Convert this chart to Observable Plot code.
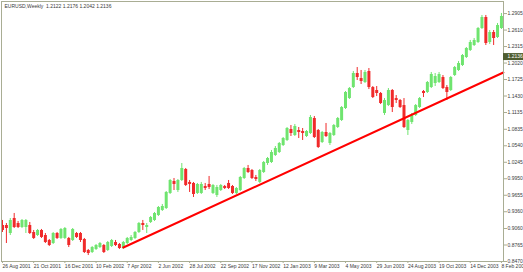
<!DOCTYPE html>
<html><head><meta charset="utf-8">
<script src="https://cdn.jsdelivr.net/npm/d3@7"></script>
<script src="https://cdn.jsdelivr.net/npm/@observablehq/plot@0.6"></script>
<style>html,body{margin:0;padding:0;background:#fff}svg{display:block}</style>
</head><body><div id="chart"></div>
<script>
const symbolTitle = "EURUSD,Weekly  1.2122 1.2176 1.2042 1.2136";
const firstWeek = "2001-08-26";

const openP = [0.9114,0.9114,0.8971,0.9239,0.9150,0.9078,0.9078,0.9114,0.8989,0.8935,
0.9025,0.8935,0.8846,0.8792,0.8971,0.8882,0.8882,0.8882,0.8846,0.8971,
0.8971,0.8864,0.8667,0.8631,0.8685,0.8720,0.8756,0.8667,0.8738,0.8810,
0.8774,0.8702,0.8792,0.8846,0.8882,0.8989,0.9150,0.9078,0.9168,0.9204,
0.9293,0.9382,0.9418,0.9687,0.9901,0.9740,0.9919,1.0116,0.9884,0.9866,
0.9687,0.9687,0.9812,0.9848,0.9687,0.9651,0.9740,0.9812,0.9866,0.9812,
0.9687,0.9740,0.9955,1.0134,1.0098,0.9973,0.9884,1.0062,1.0223,1.0241,
1.0366,1.0420,1.0545,1.0635,1.0831,1.0724,1.0813,1.0796,1.0706,1.0760,
1.1028,1.0813,1.0599,1.0778,1.0581,1.0724,1.0867,1.0992,1.1207,1.1385,
1.1582,1.1833,1.1743,1.1672,1.1869,1.1582,1.1529,1.1475,1.1118,1.1260,
1.1529,1.1385,1.1350,1.1260,1.0813,1.0957,1.1082,1.1225,1.1511,1.1493,
1.1582,1.1654,1.1672,1.1761,1.1582,1.1529,1.1797,1.1887,1.1976,1.2119,
1.2245,1.2334,1.2388,1.2638,1.2835,1.2388,1.2567,1.2477,1.2638];

const highP = [0.9204,0.9150,0.9239,0.9329,0.9186,0.9221,0.9221,0.9168,0.9025,0.9043,
0.9043,0.8971,0.8864,0.8989,0.8989,0.9060,0.9078,0.8900,0.9060,0.8989,
0.8989,0.8882,0.8685,0.8738,0.8774,0.8810,0.8774,0.8828,0.8864,0.8846,
0.8792,0.8828,0.8900,0.8935,0.9007,0.9168,0.9204,0.9150,0.9275,0.9347,
0.9454,0.9490,0.9722,0.9937,0.9955,0.9937,1.0223,1.0134,0.9919,0.9884,
0.9866,0.9884,0.9866,0.9991,0.9848,0.9830,0.9848,0.9830,0.9919,0.9830,
0.9794,0.9991,1.0152,1.0188,1.0116,1.0009,1.0116,1.0259,1.0331,1.0456,
1.0527,1.0599,1.0688,1.0867,1.0903,1.0921,1.0867,1.0849,1.0813,1.1082,
1.1064,1.0831,1.0796,1.0939,1.0778,1.0921,1.1046,1.1242,1.1511,1.1582,
1.1869,1.1940,1.1887,1.1887,1.1922,1.1600,1.1600,1.1493,1.1385,1.1564,
1.1546,1.1439,1.1368,1.1385,1.1010,1.1118,1.1278,1.1403,1.1529,1.1690,
1.1851,1.1833,1.1851,1.1797,1.1618,1.1779,1.1958,1.2048,1.2173,1.2298,
1.2424,1.2459,1.2656,1.2871,1.2871,1.2602,1.2602,1.2728,1.2907];

const lowP = [0.8989,0.8792,0.8935,0.9060,0.9060,0.9060,0.8971,0.8953,0.8864,0.8917,
0.8882,0.8792,0.8738,0.8774,0.8864,0.8864,0.8864,0.8720,0.8828,0.8882,
0.8810,0.8613,0.8577,0.8613,0.8667,0.8702,0.8613,0.8649,0.8720,0.8738,
0.8685,0.8685,0.8774,0.8828,0.8864,0.8971,0.9025,0.8971,0.9150,0.9186,
0.9275,0.9365,0.9400,0.9669,0.9740,0.9705,0.9901,0.9812,0.9705,0.9615,
0.9669,0.9669,0.9740,0.9758,0.9669,0.9615,0.9722,0.9758,0.9758,0.9669,
0.9669,0.9722,0.9937,1.0045,0.9937,0.9901,0.9866,1.0045,1.0188,1.0223,
1.0349,1.0402,1.0527,1.0617,1.0706,1.0706,1.0670,1.0635,1.0688,1.0742,
1.0670,1.0492,1.0581,1.0688,1.0545,1.0706,1.0849,1.0974,1.1189,1.1368,
1.1564,1.1708,1.1636,1.1654,1.1546,1.1385,1.1421,1.1278,1.1082,1.1242,
1.1135,1.1296,1.1207,1.0849,1.0724,1.0921,1.1064,1.1207,1.1403,1.1475,
1.1564,1.1600,1.1654,1.1546,1.1350,1.1511,1.1779,1.1869,1.1958,1.2101,
1.2227,1.2316,1.2370,1.2620,1.2334,1.2352,1.2334,1.2459,1.2620];

const closeP = [0.9025,0.9060,0.9204,0.9078,0.9078,0.9204,0.9204,0.8971,0.8882,0.9025,
0.8900,0.8810,0.8756,0.8971,0.8882,0.9043,0.9060,0.8756,0.9043,0.8900,
0.8846,0.8631,0.8613,0.8720,0.8756,0.8792,0.8631,0.8810,0.8846,0.8756,
0.8702,0.8810,0.8882,0.8900,0.8989,0.9150,0.9114,0.9114,0.9257,0.9329,
0.9436,0.9454,0.9705,0.9919,0.9848,0.9919,1.0134,0.9830,0.9848,0.9669,
0.9848,0.9848,0.9776,0.9794,0.9830,0.9794,0.9830,0.9776,0.9776,0.9687,
0.9776,0.9973,1.0134,1.0062,0.9955,0.9937,1.0098,1.0241,1.0313,1.0420,
1.0492,1.0581,1.0670,1.0849,1.0760,1.0885,1.0778,1.0760,1.0796,1.1046,
1.0688,1.0509,1.0778,1.0706,1.0760,1.0903,1.1028,1.1225,1.1493,1.1564,
1.1833,1.1761,1.1690,1.1851,1.1582,1.1403,1.1475,1.1296,1.1350,1.1529,
1.1225,1.1350,1.1225,1.0867,1.0992,1.1082,1.1260,1.1385,1.1475,1.1672,
1.1815,1.1779,1.1815,1.1564,1.1493,1.1761,1.1940,1.2012,1.2155,1.2280,
1.2388,1.2424,1.2638,1.2835,1.2370,1.2567,1.2459,1.2692,1.2853];

const xTickLabels = ["26 Aug 2001","21 Oct 2001","16 Dec 2001","10 Feb 2002","7 Apr 2002","2 Jun 2002",
"28 Jul 2002","22 Sep 2002","17 Nov 2002","12 Jan 2003","9 Mar 2003","4 May 2003","29 Jun 2003",
"24 Aug 2003","19 Oct 2003","14 Dec 2003","8 Feb 2004"];
const yTickLabels = ["1.2905","1.2610","1.2315","1.2020","1.1725","1.1430","1.1135","1.0835",
"1.0540","1.0245","0.9950","0.9655","0.9360","0.9060","0.8765","0.8470"];
const lastPrice = 1.2136;
const trendDates = ["2002-03-31T00:00Z", "2004-02-11T12:00Z"];
const trendValues = [0.8720, 1.1851];

const start = new Date(firstWeek + "T00:00Z");
const candles = openP.map((o, i) => ({
  date: d3.utcWeek.offset(start, i), open: o, high: highP[i], low: lowP[i], close: closeP[i]
}));
const up = candles.filter(d => d.close >= d.open);
const down = candles.filter(d => d.close < d.open);
const parse = d3.utcParse("%d %b %Y");
const xTicks = xTickLabels.map(parse);
const labelByTime = new Map(xTicks.map((d, i) => [+d, xTickLabels[i]]));
const yTicks = yTickLabels.map(Number);
const labelByValue = new Map(yTicks.map((d, i) => [d, yTickLabels[i]]));
const trend = trendDates.map((d, i) => ({date: new Date(d), value: trendValues[i]}));
const xDomain = [d3.utcHour.offset(start, -43), d3.utcHour.offset(start, 21593)];
const xFar = d3.utcDay.offset(start, 940);

const GREEN = "#6fe46f", RED = "#f02a2a", AXIS = "#a9ad94", TEXT = "#3a3a3a";

const chart = Plot.plot({
  width: 523, height: 272,
  marginLeft: 1, marginRight: 20, marginTop: 1, marginBottom: 11,
  style: {fontFamily: "'Liberation Sans', Arial, sans-serif", fontSize: "5px", color: TEXT, background: "#fff"},
  x: {type: "utc", domain: xDomain},
  y: {domain: [0.8470, 1.3121]},
  marks: [
    Plot.ruleX(up, {x: "date", y1: "low", y2: "high", stroke: GREEN, strokeWidth: 1}),
    Plot.ruleX(down, {x: "date", y1: "low", y2: "high", stroke: RED, strokeWidth: 1}),
    Plot.ruleX(up, {x: "date", y1: "open", y2: "close", stroke: GREEN, strokeWidth: 3}),
    Plot.ruleX(down, {x: "date", y1: "open", y2: "close", stroke: RED, strokeWidth: 3}),
    Plot.line(trend, {x: "date", y: "value", stroke: "#ff0000", strokeWidth: 2}),
    Plot.frame({stroke: AXIS}),
    Plot.axisY({anchor: "right", ticks: yTicks, tickFormat: d => labelByValue.get(d), tickSize: 3, tickPadding: 1, stroke: AXIS, fill: TEXT}),
    Plot.axisX({anchor: "bottom", ticks: xTicks, tickFormat: d => labelByTime.get(+d), tickSize: 2, tickPadding: 1, textAnchor: "start", stroke: AXIS, fill: TEXT}),
    Plot.ruleY([lastPrice], {x1: xDomain[1], x2: xFar, stroke: "#4f5d30", strokeWidth: 7}),
    Plot.text([lastPrice], {x: xDomain[1], y: d => d, text: d => d.toFixed(4), dx: 4, textAnchor: "start", fill: "#ffffff"}),
    Plot.text([symbolTitle], {frameAnchor: "top-left", text: d => d, dx: 3, dy: 3, textAnchor: "start", lineAnchor: "top", fill: TEXT})
  ]
});
document.getElementById("chart").append(chart);
</script>
</body></html>
